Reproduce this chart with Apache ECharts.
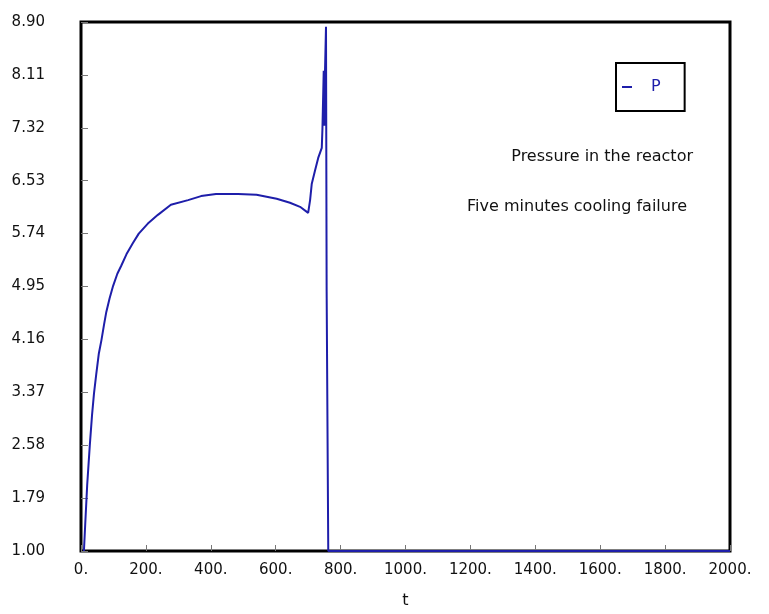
<!DOCTYPE html>
<html>
<head>
<meta charset="utf-8">
<script src="https://cdn.jsdelivr.net/npm/echarts@6/dist/echarts.min.js"></script>
<style>
	html, body { margin: 0; padding: 0; background: #fff; }
	#chart { width: 769px; height: 614px; }
</style>
</head>
<body>
<div id="chart"></div>
<script>
// time (t) and pressure (P)
var tValues = [9, 13, 19, 27, 34, 40, 47, 55, 63, 71, 78, 88, 99, 112, 124, 140, 160, 178, 206, 237, 277, 330, 370, 416, 484, 541, 572, 603, 644, 675, 700,
	706, 711, 721, 731, 742, 744, 748, 750, 752, 755, 757, 761, 762, 2000];
var pValues = [1.00, 1.40, 1.98, 2.57, 3.03, 3.35, 3.64, 3.95, 4.15, 4.38, 4.57, 4.77, 4.96, 5.14, 5.26, 5.43, 5.60, 5.74, 5.89, 6.02, 6.17, 6.24, 6.30, 6.33, 6.33, 6.32, 6.29, 6.26, 6.20, 6.14, 6.05,
	6.24, 6.48, 6.68, 6.87, 7.02, 7.30, 8.17, 7.35, 8.17, 8.83, 4.88, 4.88, 1.00, 1.00];
var yTicks = [1.00, 1.79, 2.58, 3.37, 4.16, 4.95, 5.74, 6.53, 7.32, 8.11, 8.90];
var xTicks = [0, 200, 400, 600, 800, 1000, 1200, 1400, 1600, 1800, 2000];

var FONT = 'DejaVu Sans';
var BLUE = '#1e1eaa';

var points = [];
for (var i = 0; i < tValues.length; i++) {
	points.push([tValues[i], pValues[i]]);
}

var myChart = echarts.init(document.getElementById('chart'));
var option = {
	animation: false,
	grid: {
		left: 81,
		right: 39,
		top: 22,
		bottom: 54,
		show: true,
		borderColor: '#000',
		borderWidth: 3
	},
	legend: {
		left: 616,
		top: 63,
		orient: 'vertical',
		data: [{ name: 'P', icon: 'rect' }],
		itemWidth: 10,
		itemHeight: 2,
		padding: [16, 24, 16, 6],
		borderColor: '#000',
		borderWidth: 2,
		textStyle: {
			color: BLUE,
			fontFamily: FONT,
			fontSize: 16,
			padding: [0, 0, 0, 14]
		}
	},
	xAxis: {
		type: 'value',
		min: xTicks[0],
		max: xTicks[xTicks.length - 1],
		interval: 200,
		name: 't',
		nameLocation: 'middle',
		nameGap: 42,
		nameTextStyle: { color: '#111', fontFamily: FONT, fontSize: 16 },
		axisLine: { show: false },
		axisTick: { show: true, inside: true, length: 6, lineStyle: { color: '#777' } },
		splitLine: { show: false },
		axisLabel: {
			color: '#111',
			fontFamily: FONT,
			fontSize: 15,
			margin: 12,
			formatter: function(v) { return v + '.'; }
		}
	},
	yAxis: {
		type: 'value',
		min: yTicks[0],
		max: yTicks[yTicks.length - 1],
		axisLine: { show: false },
		axisTick: { show: true, inside: true, length: 7, customValues: yTicks, lineStyle: { color: '#777' } },
		splitLine: { show: false },
		axisLabel: {
			color: '#111',
			fontFamily: FONT,
			fontSize: 15,
			margin: 36,
			customValues: yTicks,
			formatter: function(v) { return v.toFixed(2); }
		}
	},
	graphic: [
		{
			type: 'text',
			style: { text: 'Pressure in the reactor', x: 693, y: 157, textAlign: 'right', textVerticalAlign: 'middle',
				font: '16px "DejaVu Sans"', fill: '#111' }
		},
		{
			type: 'text',
			style: { text: 'Five minutes cooling failure', x: 687, y: 207, textAlign: 'right', textVerticalAlign: 'middle',
				font: '16px "DejaVu Sans"', fill: '#111' }
		}
	],
	series: [{
		name: 'P',
		type: 'line',
		showSymbol: false,
		symbol: 'none',
		color: BLUE,
		lineStyle: { color: BLUE, width: 2 },
		data: points
	}]
};
myChart.setOption(option);
</script>
</body>
</html>
